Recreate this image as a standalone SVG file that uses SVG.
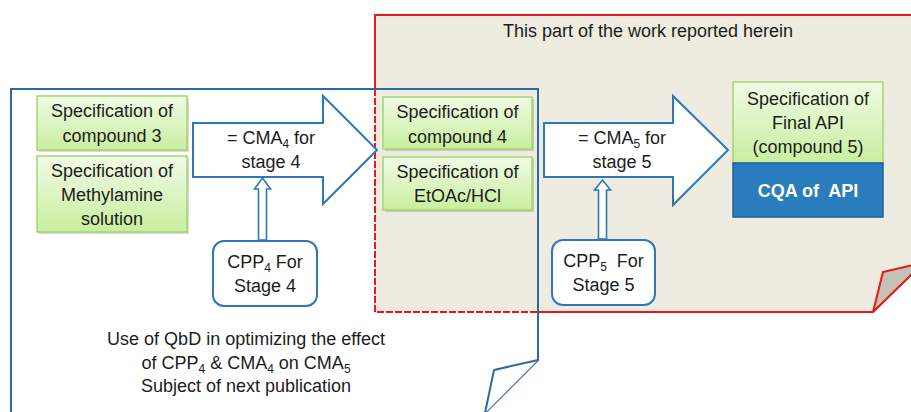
<svg xmlns="http://www.w3.org/2000/svg" width="911" height="412" viewBox="0 0 911 412">
<defs>
<linearGradient id="gr" x1="0" y1="0" x2="0" y2="1">
<stop offset="0" stop-color="#f1faE6"/>
<stop offset="1" stop-color="#c8ef9f"/>
</linearGradient>
<style>
text{font-family:"Liberation Sans",Arial,sans-serif;font-size:18px;fill:#1c1c1c;text-anchor:middle}
.spec{fill:url(#gr);stroke:#a5d46e;stroke-width:1.5}
.sh{fill:#000;opacity:0.15}
.big{fill:#fff;stroke:#2e78b8;stroke-width:2;stroke-linejoin:miter}
.small{fill:#fff;stroke:#2e78b8;stroke-width:1.6}
.cpp{fill:#fff;stroke:#2e78b8;stroke-width:2}
.sub{font-size:12px}
</style>
</defs>
<rect width="911" height="412" fill="#fff"/>
<g id="work-region">
<polygon points="375,15 913,15 913,273 873,312 375,312" fill="#eeebe0"/>
<path d="M375,89 V15 H913 M538,312 H873 L913,273" fill="none" stroke="#e8191b" stroke-width="2"/>
<path d="M375,89 V312 H538" fill="none" stroke="#e8191b" stroke-width="2" stroke-dasharray="7 2"/>
<polygon points="873,312 883,272 913,265 913,273" fill="#c3c1b6" stroke="#e8191b" stroke-width="2" stroke-linejoin="round"/>
<text x="648" y="37">This part of the work reported herein</text>
</g>
<g id="qbd-region">
<path d="M11,413 V89 H538 V360 L485,413" fill="none" stroke="#2a6aa0" stroke-width="2"/>
<path d="M538,360 L494,370 L485,413" fill="#fff" stroke="#2a6aa0" stroke-width="2" stroke-linejoin="round"/>
<text x="246" y="345">Use of QbD in optimizing the effect</text>
<text x="246" y="369">of CPP<tspan class="sub" dy="4">4</tspan><tspan dy="-4"> &amp; CMA</tspan><tspan class="sub" dy="4">4</tspan><tspan dy="-4"> on CMA</tspan><tspan class="sub" dy="4">5</tspan></text>
<text x="246" y="392">Subject of next publication</text>
</g>
<g id="connectors">
<polygon class="big" points="193,123 323,123 323,96 377,150 323,204 323,177 193,177"/>
<polygon class="big" points="544,123 673,123 673,96 728,150 673,205 673,177 544,177"/>
<polygon class="small" points="262.5,178 270.5,189 266.5,189 266.5,240 258.5,240 258.5,189 254.5,189"/>
<polygon class="small" points="602.5,180 610.5,190 606.5,190 606.5,239 598.5,239 598.5,190 594.5,190"/>
<text x="271" y="144">= CMA<tspan class="sub" dy="4">4</tspan><tspan dy="-4"> for</tspan></text>
<text x="271" y="168">stage 4</text>
<text x="622" y="144">= CMA<tspan class="sub" dy="4">5</tspan><tspan dy="-4"> for</tspan></text>
<text x="622" y="168">stage 5</text>
</g>
<g id="spec-compound3">
<rect class="sh" x="39" y="98" width="150" height="54"/>
<rect class="spec" x="37" y="96" width="150" height="54"/>
<text x="112" y="117">Specification of</text>
<text x="112" y="142">compound 3</text>
</g>
<g id="spec-methylamine">
<rect class="sh" x="39" y="158" width="150" height="76"/>
<rect class="spec" x="37" y="156" width="150" height="76"/>
<text x="112" y="177">Specification of</text>
<text x="112" y="201">Methylamine</text>
<text x="112" y="225">solution</text>
</g>
<g id="spec-compound4">
<rect class="sh" x="385" y="99" width="149" height="52"/>
<rect class="spec" x="383" y="97" width="149" height="52"/>
<text x="457.5" y="118">Specification of</text>
<text x="457.5" y="143">compound 4</text>
</g>
<g id="spec-etoac">
<rect class="sh" x="385" y="159" width="149" height="53"/>
<rect class="spec" x="383" y="157" width="149" height="53"/>
<text x="457.5" y="178">Specification of</text>
<text x="457.5" y="202">EtOAc/HCl</text>
</g>
<g id="spec-final-api">
<rect class="spec" x="733" y="82" width="150" height="81"/>
<text x="808" y="105">Specification of</text>
<text x="808" y="129">Final API</text>
<text x="808" y="153">(compound 5)</text>
</g>
<g id="cqa-api">
<rect x="733" y="163" width="150" height="54" fill="#2a7dbd" stroke="#1f5f94" stroke-width="1.5"/>
<text x="808" y="197" xml:space="preserve" style="fill:#fff;font-weight:bold">CQA of  API</text>
</g>
<g id="cpp4">
<rect class="cpp" x="213" y="241" width="104" height="65" rx="11"/>
<text x="265" y="268">CPP<tspan class="sub" dy="4">4</tspan><tspan dy="-4"> For</tspan></text>
<text x="265" y="292">Stage 4</text>
</g>
<g id="cpp5">
<rect class="cpp" x="552" y="240" width="103" height="65" rx="11"/>
<text x="603.5" y="267" xml:space="preserve">CPP<tspan class="sub" dy="4">5</tspan><tspan dy="-4">  For</tspan></text>
<text x="603.5" y="291">Stage 5</text>
</g>
</svg>
